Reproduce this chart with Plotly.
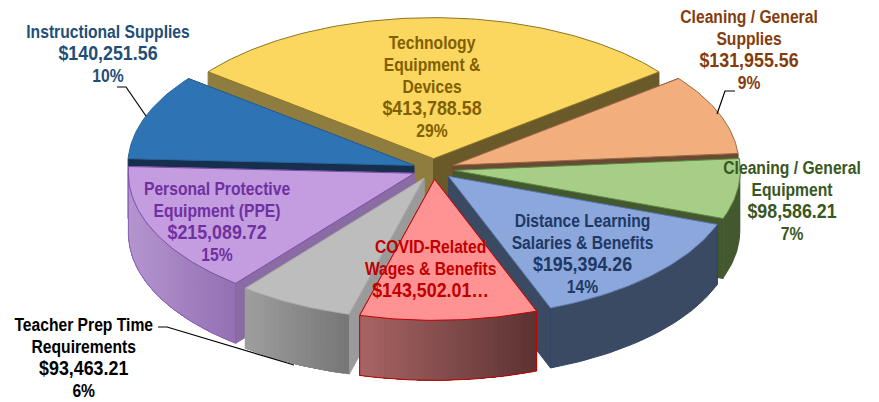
import numpy as np
import plotly.graph_objects as go

# ---- data ----
categories = ["Technology Equipment & Devices", "Cleaning / General Supplies",
              "Cleaning / General Equipment", "Distance Learning Salaries & Benefits",
              "COVID-Related Wages & Benefits", "Teacher Prep Time Requirements",
              "Personal Protective Equipment (PPE)", "Instructional Supplies"]
values = [413788.58, 131955.56, 98586.21, 195394.26, 143502.01, 93463.21, 215089.72, 140251.56]
labels = [
    ["Technology", "Equipment &", "Devices", "$413,788.58", "29%"],
    ["Cleaning / General", "Supplies", "$131,955.56", "9%"],
    ["Cleaning / General", "Equipment", "$98,586.21", "7%"],
    ["Distance Learning", "Salaries & Benefits", "$195,394.26", "14%"],
    ["COVID-Related", "Wages & Benefits", "$143,502.01…"],
    ["Teacher Prep Time", "Requirements", "$93,463.21", "6%"],
    ["Personal Protective", "Equipment (PPE)", "$215,089.72", "15%"],
    ["Instructional Supplies", "$140,251.56", "10%"],
]

# ---- styles ----
top_fill = ["#FCD75F", "#F2AE7C", "#A6CE87", "#8CA7DB", "#FF9393", "#BDBDBD", "#C49CE0", "#2E74B5"]
top_line = ["#8A7428", "#9A6A44", "#5E8A44", "#5A78AE", "#C00000", "#A8A8A8", "#7C4EA8", "#2A649C"]
wall_a = ["#8F7C3F", "#6B4A33", "#44582F", "#3A4A62", "#7A4040", "#9A9A9A", "#8B6BA3", "#152F4D"]
wall_b = ["#6A5A2A", "#6B4A33", "#44582F", "#3A4A62", "#7A4040", "#9A9A9A", "#8B6BA3", "#152F4D"]
arc_left = ["#6A5A2A", "#6B4A33", "#44582F", "#3A4A62", "#A86464", "#9E9E9E", "#B595CF", "#152F4D"]
arc_right = ["#6A5A2A", "#6B4A33", "#44582F", "#3A4A62", "#5C3232", "#767676", "#9370B2", "#152F4D"]
arc_line = [None, None, None, "#2F4468", "#C00000", None, "#8A5FB8", None]
text_col = ["#7F6000", "#843C0C", "#385723", "#203864", "#C00000", "#000000", "#7030A0", "#1F4E79"]
label_xy = [(432, 87), (749, 50), (792, 201), (582, 254), (430, 269), (83, 358), (217, 222), (108, 54)]

FONT = "Liberation Sans, Arial, sans-serif"
CX, CY, RX, RY, PULL, DEPTH = 433.5, 169.0, 286.0, 141.0, 21.0, 60.0
START = -52.0
K = RY / RX

total = sum(values)
spans = [v / total * 360 for v in values]
a0s = START + np.concatenate([[0], np.cumsum(spans)[:-1]])
a1s = a0s + np.array(spans)


def shade(c1, c2, t):
    a = [int(c1[i:i + 2], 16) for i in (1, 3, 5)]
    b = [int(c2[i:i + 2], 16) for i in (1, 3, 5)]
    return "#%02X%02X%02X" % tuple(round(p + (q - p) * t) for p, q in zip(a, b))


def poly(fig, xs, ys, fill, line=None, width=1):
    fig.add_trace(go.Scatter(x=list(xs), y=list(ys), mode="lines", fill="toself", fillcolor=fill,
                             line=dict(color=line or fill, width=width), hoverinfo="skip", showlegend=False))


fig = go.Figure()
order = sorted(range(len(values)), key=lambda i: -np.cos(np.radians((a0s[i] + a1s[i]) / 2)))
for i in order:
    a0, a1 = a0s[i], a1s[i]
    mid = np.radians((a0 + a1) / 2)
    ax = CX + PULL * np.sin(mid)
    ay = CY - PULL * K * np.cos(mid)
    px = lambda d: ax + RX * np.sin(np.radians(d))
    py = lambda d: ay - RY * np.cos(np.radians(d))

    # the two radial walls: the one facing away first
    walls = [(a0, wall_a[i], np.sin(np.radians(a0)) < 0), (a1, wall_b[i], np.sin(np.radians(a1)) > 0)]
    walls.sort(key=lambda w: w[2])
    for ang, col, _ in walls:
        poly(fig, [ax, px(ang), px(ang), ax, ax],
             [ay, py(ang), py(ang) + DEPTH, ay + DEPTH, ay], col)

    # outer curved wall, only the front half shows; each strip runs on to the end so no seams appear
    lo, hi = max(a0, 90.0), min(a1, 270.0)
    if hi > lo:
        flat = arc_left[i] == arc_right[i]
        n = 1 if flat else max(2, int(hi - lo))
        edges = np.linspace(lo, hi, n + 1)
        xmin, xmax = min(px(lo), px(hi)), max(px(lo), px(hi))
        for j in range(n):
            d = np.linspace(edges[j], hi, max(4, int(hi - edges[j]) + 2))
            t = (px((edges[j] + edges[j + 1]) / 2) - xmin) / max(xmax - xmin, 1)
            col = shade(arc_left[i], arc_right[i], t)
            poly(fig, np.r_[px(d), px(d[::-1])], np.r_[py(d), py(d[::-1]) + DEPTH], col, None, 0)
        if arc_line[i]:
            d = np.linspace(lo, hi, 60)
            fig.add_trace(go.Scatter(x=np.r_[px(lo), px(d), px(hi)],
                                     y=np.r_[py(lo), py(d) + DEPTH, py(hi)],
                                     mode="lines", line=dict(color=arc_line[i], width=1),
                                     hoverinfo="skip", showlegend=False))

    # top face
    d = np.linspace(a0, a1, max(8, int(spans[i])))
    poly(fig, np.r_[ax, px(d), ax], np.r_[ay, py(d), ay], top_fill[i], top_line[i], 1)

# leader lines
leaders = [([117, 126, 146], [87, 87, 116]),
           ([735, 725, 717], [91, 91, 114]),
           ([158, 167, 294], [327, 327, 365])]
for lx, ly in leaders:
    fig.add_trace(go.Scatter(x=lx, y=ly, mode="lines", line=dict(color="#000000", width=1.2),
                             hoverinfo="skip", showlegend=False))

for lines, (x, y), col in zip(labels, label_xy, text_col):
    parts = []
    for ln in lines:
        big = ln.startswith("$")
        parts.append(f"<span style='font-size:{20.5 if big else 18}px'>{ln.replace('&', '&amp;')}</span>")
    fig.add_annotation(x=x, y=y, xref="x", yref="y", text="<br>".join(parts), showarrow=False,
                       align="center", xanchor="center", yanchor="middle",
                       font=dict(family=FONT, size=17, color=col, weight="bold"))

fig.update_layout(width=879, height=402, margin=dict(l=0, r=0, t=0, b=0),
                  paper_bgcolor="white", plot_bgcolor="white", showlegend=False,
                  xaxis=dict(range=[0, 879], visible=False, fixedrange=True),
                  yaxis=dict(range=[402, 0], visible=False, fixedrange=True))

# remove the page margin and condense the label text (no narrow face is installed)
post = """
document.body.style.margin = '0';
document.querySelectorAll('.annotation-text').forEach(function (t) {
  var x = parseFloat(t.getAttribute('x'));
  t.setAttribute('transform', 'translate(' + x + ',0) scale(0.87,1) translate(' + (-x) + ',0)');
});
"""
fig.write_html("out.html", config=dict(displayModeBar=False), post_script=post)
